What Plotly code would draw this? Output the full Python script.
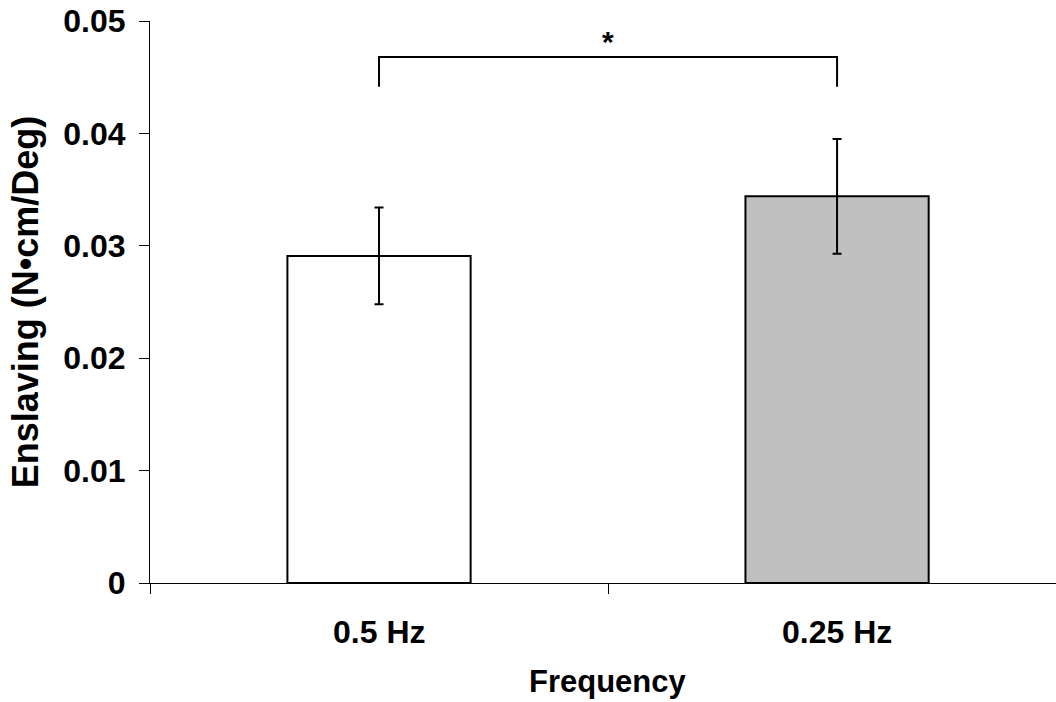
import plotly.graph_objects as go

# ---- data ----
categories = ["0.5 Hz", "0.25 Hz"]
means = [0.0291, 0.0344]
errors = [0.0043, 0.0051]
bar_colors = ["#FFFFFF", "#C0C0C0"]
y_tick_vals = [0, 0.01, 0.02, 0.03, 0.04, 0.05]
y_tick_text = ["0", "0.01", "0.02", "0.03", "0.04", "0.05"]
bracket_top = 0.0468
bracket_bottom = 0.04415
star_y = 0.0482
star_text = "*"
x_title = "Frequency"
y_title = "Enslaving (N\u2022cm/Deg)"

FONT = "Liberation Sans, Arial, sans-serif"

fig = go.Figure()
fig.add_trace(go.Bar(
    x=[0, 1],
    y=means,
    width=0.4,
    marker=dict(color=bar_colors, line=dict(color="black", width=2)),
    error_y=dict(type="data", array=errors, visible=True,
                 color="black", thickness=2, width=4.5),
    showlegend=False,
))

# significance bracket
fig.add_trace(go.Scatter(
    x=[0, 0, 1, 1],
    y=[bracket_bottom, bracket_top, bracket_top, bracket_bottom],
    mode="lines",
    line=dict(color="black", width=2),
    showlegend=False,
    hoverinfo="skip",
))
fig.add_annotation(x=0.5, y=star_y, text="<b>" + star_text + "</b>",
                   showarrow=False, font=dict(family=FONT, size=30, color="black"),
                   xref="x", yref="y")

fig.update_layout(
    width=1056, height=702,
    margin=dict(l=150, r=0, t=21, b=119),
    plot_bgcolor="white", paper_bgcolor="white",
    font=dict(family=FONT, color="black"),
)
fig.update_xaxes(
    range=[-0.5, 1.478],
    tickvals=[-0.5, 0.5],
    ticktext=["", ""],
    ticks="outside", ticklen=10, tickcolor="black", tickwidth=1,
    showline=True, linecolor="black", linewidth=1,
    showgrid=False, zeroline=False,
)
# category labels as axis-anchored annotations
for i, c in enumerate(categories):
    fig.add_annotation(x=i, y=0, yref="y", xref="x", yshift=-49,
                       text="<b>" + c + "</b>", showarrow=False,
                       font=dict(family=FONT, size=32, color="black"))
fig.add_annotation(x=0.5, y=0, xref="x", yref="y", yshift=-98,
                   text="<b>" + x_title + "</b>", showarrow=False,
                   font=dict(family=FONT, size=31, color="black"))
fig.update_yaxes(
    range=[0, 0.05],
    tickvals=y_tick_vals, ticktext=["<b>" + t + "</b>" for t in y_tick_text],
    tickfont=dict(family=FONT, size=32, color="black"),
    ticks="outside", ticklen=10, tickcolor="black", tickwidth=1,
    ticklabelstandoff=7,
    showline=True, linecolor="black", linewidth=1,
    showgrid=False, zeroline=False,
    title=dict(text="<b>" + y_title + "</b>", font=dict(family=FONT, size=36, color="black"),
               standoff=13),
)

fig.write_html("out.html", config={"displayModeBar": False},
               post_script="document.body.style.margin='0';")
